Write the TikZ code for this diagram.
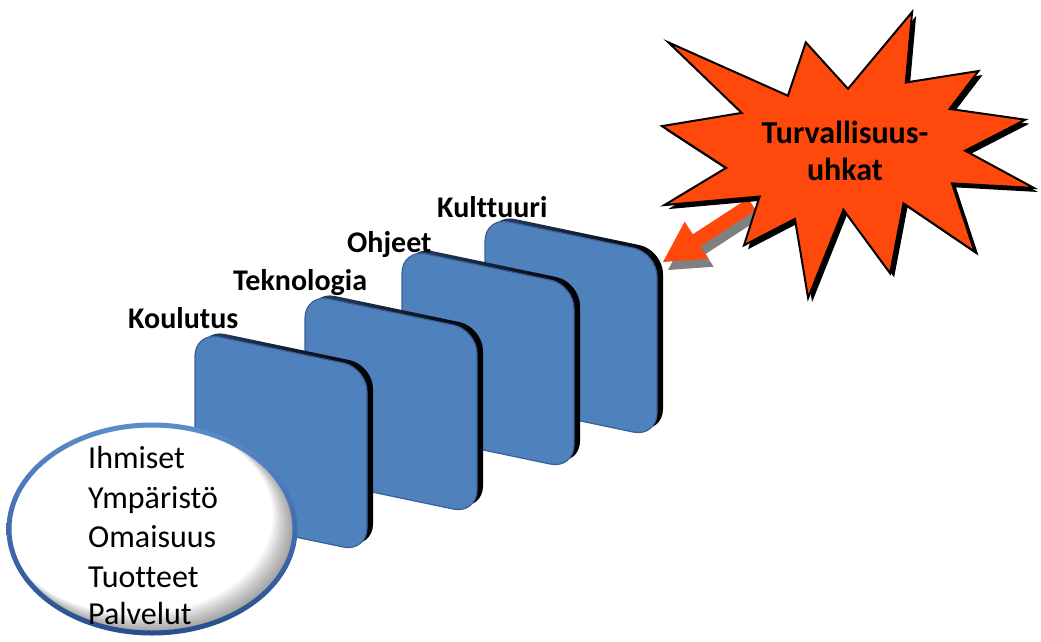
\documentclass[tikz,border=0pt]{standalone}
\usepackage{fontspec}
\setmainfont{Carlito}[Ligatures=NoCommon]
\usetikzlibrary{calc}

\definecolor{faceblue}{RGB}{79,129,189}
\definecolor{faceedge}{RGB}{58,96,150}
\definecolor{rimnavy}{RGB}{40,64,104}
\definecolor{blast}{RGB}{255,72,12}
\definecolor{ovaltop}{RGB}{92,140,205}
\definecolor{ovalbottom}{RGB}{40,78,140}
\definecolor{arrowshadow}{RGB}{128,128,128}

\tikzset{
  layerlabel/.style={font=\bfseries\fontsize{30}{36}\selectfont, inner sep=0pt, anchor=base west},
  assettext/.style={font=\fontsize{32}{38}\selectfont, inner sep=0pt, anchor=base west},
  threattext/.style={font=\bfseries\fontsize{32}{38}\selectfont, inner sep=0pt, anchor=base},
  % one slanted protective layer: dark extruded rim behind a blue face
  layer/.pic={
    \path[left color=rimnavy, right color=black, rounded corners=24pt]
      (6,-3) -- (178,33) -- (178,216) -- (6,180) -- cycle;
    \path[fill=faceblue, draw=faceedge, line width=1.2pt, rounded corners=24pt]
      (0,0) -- (172,36) -- (172,220) -- (0,184) -- cycle;
  }
}

% outline of the threat explosion
\def\blastpath{(848,88.8) -- (912.1,12) -- (905.8,82.5) -- (978.5,71) -- (949.6,108.9)
  -- (1025.3,119.7) -- (965.2,150.7) -- (1034,188) -- (952,183.4) -- (974.5,251.6)
  -- (903.5,203.4) -- (890.1,273.3) -- (843.4,209.8) -- (808.1,298) -- (794.9,218.9)
  -- (744,245.3) -- (759.6,196.5) -- (664.3,205.1) -- (726.1,167.9) -- (662,126.1)
  -- (741.7,112.9) -- (668.4,42.4) -- (787.9,95.7) -- (805.8,42.4) -- cycle}

% block arrow from the explosion towards the outermost layer
\def\arrowpath{(663,262) -- (684.6,221.7) -- (692.8,234.3) -- (748.1,198.3)
  -- (755.7,210.1) -- (700.4,246.1) -- (708.6,258.7) -- cycle}

\begin{document}
\begin{tikzpicture}[x=1pt, y=-1pt]
  \useasboundingbox (0,0) rectangle (1041,642);
  \fill[white] (0,0) rectangle (1041,642);

  % layers, back to front
  \pic at (485,217) {layer};
  \pic at (402,249) {layer};
  \pic at (305,294) {layer};
  \pic at (195,332) {layer};

  % layer labels
  \node[layerlabel] (kulttuuri) at (437,217) {Kulttuuri};
  \node[layerlabel] (ohjeet) at (347,252) {Ohjeet};
  \node[layerlabel] (teknologia) at (233,290) {Teknologia};
  \node[layerlabel] (koulutus) at (128,328) {Koulutus};

  % protected assets: white oval with a grey inner shade at the lower right
  \coordinate (assets) at (152,529);
  \fill[white] (assets) ellipse [x radius=143, y radius=104];
  \begin{scope}
    \clip (assets) ellipse [x radius=143, y radius=104];
    \foreach \k in {1,...,10}
      \fill[black, opacity=0.045, even odd rule]
        (-10,380) rectangle (320,650)
        ($(assets)+(-1.6*\k,-1.3*\k)$) ellipse [x radius=143-0.6*\k, y radius=104-0.6*\k];
  \end{scope}
  \path[even odd rule, top color=ovaltop, bottom color=ovalbottom]
    (assets) ellipse [x radius=145.5, y radius=106.5]
    (assets) ellipse [x radius=140.5, y radius=101.5];
  \foreach \item/\base [count=\i] in {Ihmiset/468, Ympäristö/508, Omaisuus/547,
                                      Tuotteet/587, Palvelut/624}
    \node[assettext] (asset\i) at (88,\base) {\item};

  % attack arrow with grey shadow
  \fill[arrowshadow, shift={(5,8)}] \arrowpath;
  \fill[blast] \arrowpath;

  % threat explosion with drop shadow
  \fill[black, shift={(4,4)}] \blastpath;
  \filldraw[fill=blast, draw=black, line width=2pt, line join=miter] \blastpath;
  \node[threattext] (threat1) at (845,143) {Turvallisuus-};
  \node[threattext] (threat2) at (845,180) {uhkat};
\end{tikzpicture}
\end{document}
